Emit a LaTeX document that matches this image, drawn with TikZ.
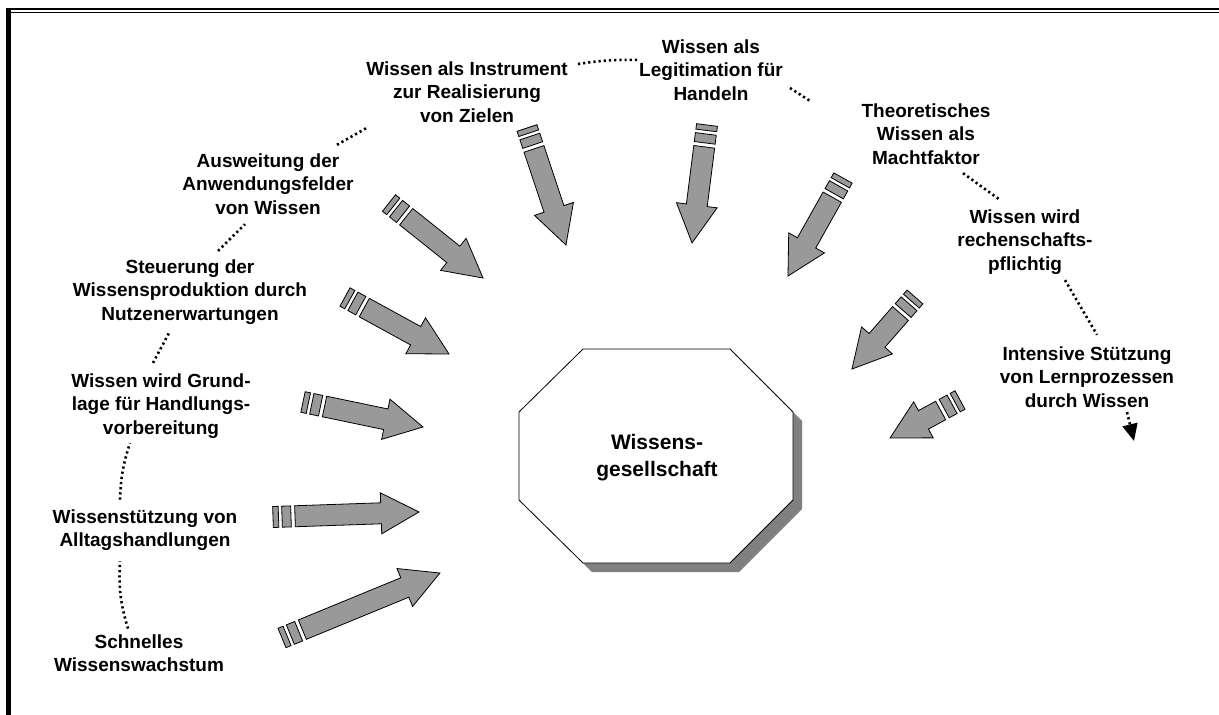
\documentclass[tikz,border=0pt]{standalone}
\usepackage{fontspec}
\setmainfont{Liberation Sans}
\usetikzlibrary{arrows.meta}

\begin{document}
\begin{tikzpicture}[x=1pt,y=-1pt,
    lbl/.style={align=center,inner sep=2pt,
      font=\fontsize{19}{23.5}\selectfont\bfseries},
    dotline/.style={line width=2.6pt,dash pattern=on 2.2pt off 3pt},
    barrow/.style={fill=black!40,draw=black,line width=0.8pt},
    pics/blockarrow/.style={code={
      \filldraw[barrow] (0,-10.5) rectangle (5.5,10.5);
      \filldraw[barrow] (9,-10.5) rectangle (18,10.5);
      \filldraw[barrow] (22,-10.5) -- (#1-38,-10.5) -- (#1-38,-20.5) -- (#1,0)
        -- (#1-38,20.5) -- (#1-38,10.5) -- (22,10.5) -- cycle;}}]
  \useasboundingbox (0,0) rectangle (1219,715);
  \draw[line width=2.3pt] (1219,9) -- (7,9);
  \draw[line width=1.3pt] (1219,12.5) -- (10.5,12.5);
  \draw[line width=4.6pt] (8.3,7.85) -- (8.3,715);

  \fill[black!50,shift={(9,9)}] (583,349) -- (730,349) -- (793,412) -- (793,500)
    -- (730,563) -- (583,563) -- (519,500) -- (519,412) -- cycle;
  \draw[fill=white,line width=0.8pt] (583,349) -- (730,349) -- (793,412) -- (793,500)
    -- (730,563) -- (583,563) -- (519,500) -- (519,412) -- cycle;
  \node[align=center,font=\fontsize{21}{27}\selectfont\bfseries] (wg) at (657,458)
    {Wissens-\\gesellschaft};

  \node[lbl] (t1) at (139,653) {Schnelles\\Wissenswachstum};
  \node[lbl] (t2) at (145,530) {Wissenstützung von\\Alltagshandlungen};
  \node[lbl] (t3) at (161,406) {Wissen wird Grund-\\lage für Handlungs-\\vorbereitung};
  \node[lbl] (t4) at (190,292) {Steuerung der\\Wissensproduktion durch\\Nutzenerwartungen};
  \node[lbl] (t5) at (268,184) {Ausweitung der\\Anwendungsfelder\\von Wissen};
  \node[lbl] (t6) at (467,92) {Wissen als Instrument\\zur Realisierung\\von Zielen};
  \node[lbl] (t7) at (711,70) {Wissen als\\Legitimation für\\Handeln};
  \node[lbl] (t8) at (926,134) {Theoretisches\\Wissen als\\Machtfaktor};
  \node[lbl] (t9) at (1025,242) {Wissen wird\\rechenschafts-\\pflichtig};
  \node[lbl] (t10) at (1087,377) {Intensive Stützung\\von Lernprozessen\\durch Wissen};
  \coordinate (lrnend) at (1134,441);

  \draw[dotline] ([xshift=-11pt,yshift=3.5pt]t1.north) to[bend left=10] ([xshift=-25pt,yshift=-8.5pt]t2.south)
    ([xshift=-25pt,yshift=7.5pt]t2.north) to[bend left=8] ([xshift=-31pt,yshift=-2.5pt]t3.south)
    ([xshift=-8pt,yshift=8.5pt]t3.north) -- ([xshift=-20pt,yshift=-4.5pt]t4.south)
    ([xshift=28pt,yshift=6.5pt]t4.north) -- ([xshift=-23pt,yshift=-7.5pt]t5.south)
    ([xshift=69pt,yshift=6.5pt]t5.north) -- ([xshift=-99pt,yshift=-2.5pt]t6.south)
    ([xshift=8pt,yshift=28pt]t6.east) to[bend left=5] ([xshift=3pt,yshift=10pt]t7.west)
    ([xshift=5pt,yshift=-18pt]t7.east) -- ([xshift=-48pt,yshift=-0.5pt]t8.north west)
    ([xshift=37pt,yshift=-6.5pt]t8.south) -- ([xshift=-25pt,yshift=7.5pt]t9.north)
    ([xshift=40pt,yshift=-3.5pt]t9.south) -- ([xshift=10pt,yshift=9.5pt]t10.north);
  \draw[dotline,-{Triangle[width=15pt,length=17pt]}]
    ([xshift=40pt,yshift=-2.5pt]t10.south) -- (lrnend);

  \pic[rotate=22.36] at (282,638) {blockarrow=170.8};
  \pic[rotate=1.96] at (273,517) {blockarrow=146.1};
  \pic[rotate=-11.77] at (303,402) {blockarrow=122.6};
  \pic[rotate=-28.73] at (345,297) {blockarrow=118.6};
  \pic[rotate=-38.59] at (389,203) {blockarrow=120.3};
  \pic[rotate=-71.57] at (527,128) {blockarrow=123.3};
  \pic[rotate=-97.24] at (707,125) {blockarrow=118.9};
  \pic[rotate=-119.3] at (843,178) {blockarrow=112.4};
  \pic[rotate=-131.19] at (915,297) {blockarrow=95.7};
  \pic[rotate=-151.5] at (960,400) {blockarrow=79.6};
\end{tikzpicture}
\end{document}
